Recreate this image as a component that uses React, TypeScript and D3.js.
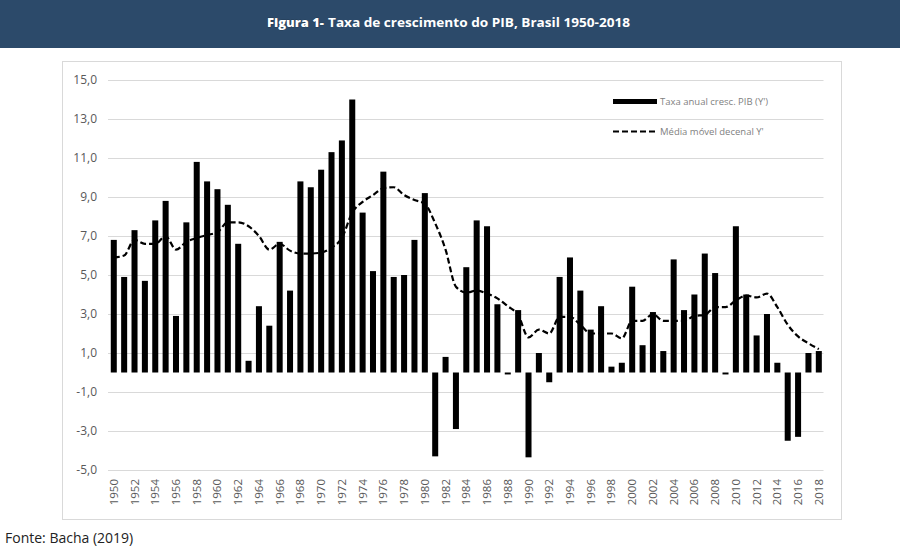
import React from "react";
import * as d3 from "d3";

const years: number[] = d3.range(1950, 2019);
const growth: number[] = [
  6.8, 4.9, 7.3, 4.7, 7.8, 8.8, 2.9, 7.7, 10.8, 9.8,
  9.4, 8.6, 6.6, 0.6, 3.4, 2.4, 6.7, 4.2, 9.8, 9.5,
  10.4, 11.3, 11.9, 14.0, 8.2, 5.2, 10.3, 4.9, 5.0, 6.8,
  9.2, -4.3, 0.8, -2.9, 5.4, 7.8, 7.5, 3.5, -0.1, 3.2,
  -4.35, 1.0, -0.5, 4.9, 5.9, 4.2, 2.2, 3.4, 0.3, 0.5,
  4.4, 1.4, 3.1, 1.1, 5.8, 3.2, 4.0, 6.1, 5.1, -0.1,
  7.5, 4.0, 1.9, 3.0, 0.5, -3.5, -3.3, 1.0, 1.1,
];
const movingAvg: number[] = [
  5.9, 6.0, 6.8, 6.6, 6.6, 7.0, 6.3, 6.7, 6.9, 7.05,
  7.2, 7.7, 7.7, 7.5, 7.0, 6.3, 6.6, 6.25, 6.1, 6.1,
  6.15, 6.4, 6.9, 8.2, 8.75, 9.1, 9.45, 9.5, 9.1, 8.85,
  8.65, 7.65, 6.3, 4.4, 4.1, 4.2, 4.05, 3.8, 3.4, 2.95,
  1.8, 2.2, 2.0, 2.85, 2.85, 2.45, 2.0, 2.0, 2.0, 1.75,
  2.65, 2.65, 3.0, 2.65, 2.65, 2.65, 2.9, 2.95, 3.35, 3.35,
  3.7, 3.95, 3.85, 4.05, 3.35, 2.45, 1.85, 1.5, 1.2,
];
const yTicks: number[] = [15, 13, 11, 9, 7, 5, 3, 1, -1, -3, -5];
const titleBold = "Figura 1-";
const titleRest = "Taxa de crescimento do PIB, Brasil 1950-2018";
const legendBars = "Taxa anual cresc. PIB (Y')";
const legendLine = "Média móvel decenal Y'";
const source = "Fonte: Bacha (2019)";

export default function App() {
  const W = 900;
  const H = 558;
  const x = d3
    .scaleBand<number>()
    .domain(years)
    .range([108.6, 824])
    .paddingInner(0.42)
    .paddingOuter(0.21);
  const y = d3.scaleLinear().domain([-5, 15]).range([470, 80]);
  const cx = (yr: number) => (x(yr) as number) + x.bandwidth() / 2;
  const line = d3
    .line<number>()
    .x((_, i) => cx(years[i]))
    .y((d) => y(d))
    .curve(d3.curveMonotoneX);
  const font = "'Open Sans', 'Liberation Sans', sans-serif";
  const grey = "#595959";

  return (
    <svg
      width={W}
      height={H}
      style={{ position: "absolute", left: 0, top: 0, background: "#fff" }}
      fontFamily={font}
    >
      <rect x={0} y={0} width={W} height={48} fill="#2c4a6a" />
      <text
        x={267}
        y={27}
        fill="#fff"
        fontSize={13}
        fontWeight={800}
        textLength={57}
        lengthAdjust="spacingAndGlyphs"
        stroke="#1a2a3a"
        strokeWidth={0.6}
        paintOrder="stroke"
      >
        {titleBold}
      </text>
      <text
        x={328}
        y={27}
        fill="#fff"
        fontSize={13}
        fontWeight={700}
        textLength={302}
        lengthAdjust="spacingAndGlyphs"
      >
        {titleRest}
      </text>

      <rect
        x={62.5}
        y={61.5}
        width={779}
        height={458}
        fill="#fff"
        stroke="#d9d9d9"
        strokeWidth={1}
      />

      {yTicks.map((t) => (
        <g key={t}>
          <line
            x1={108}
            x2={823.5}
            y1={Math.round(y(t)) + 0.5}
            y2={Math.round(y(t)) + 0.5}
            stroke="#d9d9d9"
            strokeWidth={1}
          />
          <text
            x={97}
            y={y(t)}
            dy="0.35em"
            textAnchor="end"
            fontSize={12}
            fill={grey}
          >
            {t.toFixed(1).replace(".", ",")}
          </text>
        </g>
      ))}

      {years.map((yr, i) => {
        const v = growth[i];
        const y0 = y(0);
        const y1 = y(v);
        return (
          <rect
            key={yr}
            x={x(yr)}
            y={Math.min(y0, y1)}
            width={x.bandwidth()}
            height={Math.max(Math.abs(y1 - y0), 0.8)}
            fill="#000"
          />
        );
      })}

      <path
        d={line(movingAvg) || ""}
        fill="none"
        stroke="#000"
        strokeWidth={2.2}
        strokeDasharray="6,3"
      />

      {years
        .filter((yr) => (yr - 1950) % 2 === 0)
        .map((yr) => (
          <text
            key={yr}
            transform={`translate(${cx(yr) + 4},479) rotate(-90)`}
            textAnchor="end"
            fontSize={11.5}
            fill={grey}
          >
            {yr}
          </text>
        ))}

      <rect x={613} y={99} width={44} height={5} fill="#000" />
      <text x={660} y={104.5} fontSize={9.5} fill="#7f7f7f">
        {legendBars}
      </text>
      <line
        x1={613}
        x2={657}
        y1={131.5}
        y2={131.5}
        stroke="#000"
        strokeWidth={2.2}
        strokeDasharray="6,3"
      />
      <text x={660} y={134.5} fontSize={9.5} fill="#7f7f7f">
        {legendLine}
      </text>

      <text x={5} y={543} fontSize={14} fill="#222">
        {source}
      </text>
    </svg>
  );
}
